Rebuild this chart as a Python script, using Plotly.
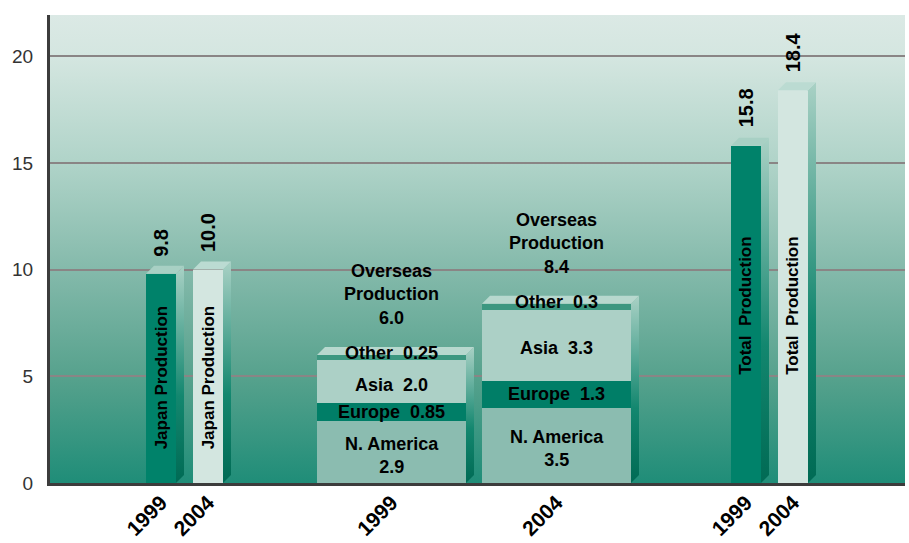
import base64
import plotly.graph_objects as go

# Vehicle production (million units), 1999 vs 2004
years = ["1999", "2004"]
japan_production = [9.8, 10.0]
na_production = [2.9, 3.5]
europe_production = [0.85, 1.3]
asia_production = [2.0, 3.3]
other_production = [0.25, 0.3]
total_production = [15.8, 18.4]
y_ticks = [0, 5, 10, 15, 20]

overseas_production = [
    round(a + b + c + d, 2)
    for a, b, c, d in zip(na_production, europe_production, asia_production, other_production)
]

# ---- layout geometry ----
W, H = 909, 543
M_L, M_R, M_T, M_B = 50, 4, 15, 60
PLOT_W = W - M_L - M_R
PLOT_H = H - M_T - M_B
Y_MAX = 21.93
PX_Y = Y_MAX / PLOT_H          # y data units per pixel
DEPTH = 8                      # 3-D depth of the bars in pixels

japan_x = [111, 158]
overseas_x = [341.5, 506.5]
total_x = [696, 743]
NARROW = 30
WIDE = 149

FONT = "Liberation Sans, Arial, sans-serif"
DARK = "#00826a"
LIGHT = "#d3e6e0"
NA_COLOR = "#8bbcb0"
EU_COLOR = "#007e67"
ASIA_COLOR = "#acd0c6"
OTHER_COLOR = "#3c9780"
SIDE_SCALE = [[0, "#006a54"], [0.4, "#13876f"], [1, "#a9d1c5"]]


def fmt(v):
    return f"{v:.1f}" if round(v, 1) == round(v, 2) else f"{v:.2f}"


fig = go.Figure()


def add_bar(x, base, height, width, color):
    fig.add_trace(go.Bar(
        x=[x], y=[height], base=[base], width=[width],
        marker=dict(color=color, line=dict(width=0)),
        hoverinfo="skip", showlegend=False,
    ))


def add_faces(x, width, top, top_color):
    left, right = x - width / 2, x + width / 2
    dy = DEPTH * PX_Y
    # right-hand side face
    fig.add_trace(go.Scatter(
        x=[right, right + DEPTH, right + DEPTH, right, right],
        y=[0, dy, top + dy, top, 0],
        mode="none", fill="toself",
        fillgradient=dict(type="vertical", colorscale=SIDE_SCALE),
        hoverinfo="skip", showlegend=False,
    ))
    # top face
    fig.add_trace(go.Scatter(
        x=[left, left + DEPTH, right + DEPTH, right, left],
        y=[top, top + dy, top + dy, top, top],
        mode="none", fill="toself", fillcolor=top_color,
        hoverinfo="skip", showlegend=False,
    ))


bar_colors = [DARK, LIGHT]
top_colors = ["#a8d0c4", "#bbdbd2"]

# Japan production bars
for i, x in enumerate(japan_x):
    add_bar(x, 0, japan_production[i], NARROW, bar_colors[i])
    add_faces(x, NARROW, japan_production[i], top_colors[i])

# Overseas production: stacked regions
for i, x in enumerate(overseas_x):
    base = 0
    for vals, col in [(na_production, NA_COLOR), (europe_production, EU_COLOR),
                      (asia_production, ASIA_COLOR), (other_production, OTHER_COLOR)]:
        add_bar(x, base, vals[i], WIDE, col)
        base += vals[i]
    add_faces(x, WIDE, overseas_production[i], "#b7d8ce")

# Total production bars
for i, x in enumerate(total_x):
    add_bar(x, 0, total_production[i], NARROW, bar_colors[i])
    add_faces(x, NARROW, total_production[i], top_colors[i])

annotations = []


def label(x, y, text, size=18, angle=0, yshift=0, yanchor="middle"):
    annotations.append(dict(
        x=x, y=y, xref="x", yref="y", text=text, showarrow=False,
        textangle=angle, yshift=yshift, xanchor="center", yanchor=yanchor,
        font=dict(family=FONT, size=size, color="#000000", weight="bold"),
    ))


for i, x in enumerate(japan_x):
    label(x, japan_production[i], fmt(japan_production[i]), size=20, angle=-90,
          yshift=15, yanchor="bottom")
    label(x, 4.95, "Japan Production", size=17, angle=-90)

for i, x in enumerate(total_x):
    label(x, total_production[i], fmt(total_production[i]), size=20, angle=-90,
          yshift=16, yanchor="bottom")
    label(x, 8.3, "Total\u00a0 Production", size=17, angle=-90)

for i, x in enumerate(overseas_x):
    na, eu, asia, oth = na_production[i], europe_production[i], asia_production[i], other_production[i]
    tot = overseas_production[i]
    label(x, na / 2, f"N. America<br>{fmt(na)}", yshift=-3)
    label(x, na + eu / 2, f"Europe\u00a0 {fmt(eu)}")
    label(x, na + eu + asia / 2, f"Asia\u00a0 {fmt(asia)}", yshift=-3)
    label(x, tot, f"Other\u00a0 {fmt(oth)}", yshift=2)
    label(x, tot, fmt(tot), yshift=37)
    label(x, tot, "Overseas<br>Production", yshift=72)

# vertical gradient for the plotting area
stops = [(0.0, "#dbe9e5"), (0.09, "#d4e6e0"), (0.32, "#afd3c8"),
         (0.55, "#83b9aa"), (0.78, "#55a18c"), (1.0, "#1f8d78")]
svg = ('<svg xmlns="http://www.w3.org/2000/svg" width="100" height="100" '
       'viewBox="0 0 100 100" preserveAspectRatio="none"><defs>'
       '<linearGradient id="g" x1="0" y1="0" x2="0" y2="1">'
       + "".join(f'<stop offset="{o}" stop-color="{c}"/>' for o, c in stops)
       + '</linearGradient></defs><rect width="100" height="100" fill="url(#g)"/></svg>')
bg_src = "data:image/svg+xml;base64," + base64.b64encode(svg.encode()).decode()

fig.update_layout(
    width=W, height=H, autosize=False,
    margin=dict(l=M_L, r=M_R, t=M_T, b=M_B, pad=0),
    paper_bgcolor="#ffffff", plot_bgcolor="#ffffff",
    barmode="overlay", bargap=0,
    showlegend=False,
    annotations=annotations,
    images=[dict(source=bg_src, xref="paper", yref="paper", x=0, y=1,
                 sizex=1, sizey=1, xanchor="left", yanchor="top",
                 sizing="stretch", layer="below")],
    xaxis=dict(
        range=[0, PLOT_W], showgrid=False, zeroline=False, automargin=False,
        showline=True, linecolor="#3c3c3c", linewidth=3,
        tickmode="array", tickvals=japan_x + overseas_x + total_x,
        ticktext=years * 3, tickangle=-45, ticks="", ticklabelstandoff=-4,
        tickfont=dict(family=FONT, size=21, color="#000000", weight="bold"),
    ),
    yaxis=dict(
        range=[0, Y_MAX], showgrid=True, gridcolor="#8a8585", gridwidth=1.5,
        zeroline=False, automargin=False, showline=True, linecolor="#3c3c3c", linewidth=3,
        tickmode="array", tickvals=y_ticks, ticks="", ticklabelstandoff=10,
        tickfont=dict(family=FONT, size=19, color="#333333"),
    ),
)

fig.write_html("out.html", config={"displayModeBar": False})
